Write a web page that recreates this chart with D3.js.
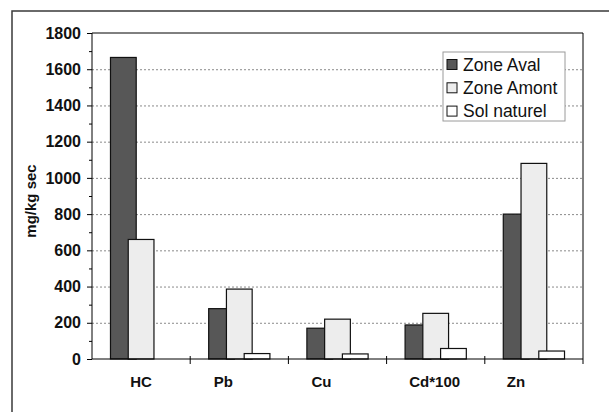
<html lang="fr">
<head>
  <meta charset="UTF-8"/>
  <title>mg/kg sec</title>
  <script src="https://d3js.org/d3.v7.min.js"></script>
</head>
<style>
body {
  margin: 0;
  background: #fff;
  font-family: 'Liberation Sans', Arial, sans-serif;
}

svg {
  width: 609px;
  height: 412px;
  display: block;
}

.axis path, .axis line {
  stroke: #000;
  stroke-width: 1;
}

.axis text {
  font-family: 'Liberation Sans', Arial, sans-serif;
  font-size: 15px;
  font-weight: bold;
  fill: #111;
}

.yaxis text {
  font-size: 16px;
}

.grid line {
  stroke: #8a8a8a;
  stroke-width: 1;
  stroke-dasharray: 2 2;
}

.grid path {
  stroke-width: 0;
}

text.ytitle {
  font-size: 15px;
  font-weight: bold;
  fill: #111;
}

text.legend {
  font-size: 17.5px;
  fill: #111;
}
</style>
<body>
<svg></svg>
<script>
    const categories = ['HC', 'Pb', 'Cu', 'Cd*100', 'Zn'];
    const seriesNames = ['Zone Aval', 'Zone Amont', 'Sol naturel'];
    const zoneAval = [1665, 278, 170, 188, 800];
    const zoneAmont = [660, 386, 220, 252, 1080];
    const solNaturel = [0, 30, 28, 58, 44];
    const yTicks = [0, 200, 400, 600, 800, 1000, 1200, 1400, 1600, 1800];
    const colors = ['#575757', '#ededed', '#ffffff'];

    const series = [zoneAval, zoneAmont, solNaturel];

    const svg = d3.select('svg');

    // outer frame
    svg.append('rect')
      .attr('x', 12)
      .attr('y', 11)
      .attr('width', 620)
      .attr('height', 420)
      .attr('fill', 'none')
      .attr('stroke', '#3a3a3a')
      .attr('stroke-width', 1.5);

    const plotL = 92, plotR = 583, plotT = 33, plotB = 359;

    const x = d3.scaleBand()
      .domain(categories)
      .range([plotL, plotR])
      .padding(0);

    const y = d3.scaleLinear()
      .domain([0, 1800])
      .range([plotB, plotT]);

    // grid
    svg.append('g')
      .attr('class', 'grid')
      .attr('transform', `translate(${plotL}, 0)`)
      .call(d3.axisLeft(y)
        .tickValues(yTicks.filter(t => t > 0 && t < 1800))
        .tickSize(-(plotR - plotL))
        .tickFormat('')
      );

    // plot border top / right
    svg.append('line')
      .attr('x1', plotL).attr('x2', plotR)
      .attr('y1', y(1800)).attr('y2', y(1800))
      .attr('stroke', '#000');
    svg.append('line')
      .attr('x1', plotR).attr('x2', plotR)
      .attr('y1', y(1800)).attr('y2', y(0))
      .attr('stroke', '#000');

    // bars
    const barW = x.bandwidth() * 0.262;
    const step = barW * 0.69;
    const groupW = barW + step * (series.length - 1);

    series.forEach((vals, s) => {
      svg.append('g')
        .selectAll('rect')
        .data(vals.map((v, i) => ({ cat: categories[i], v })).filter(d => d.v > 0))
        .enter()
        .append('rect')
        .attr('x', d => x(d.cat) + (x.bandwidth() - groupW) / 2 + s * step)
        .attr('y', d => y(d.v))
        .attr('width', barW)
        .attr('height', d => y(0) - y(d.v))
        .attr('fill', colors[s])
        .attr('stroke', '#111')
        .attr('stroke-width', 1.2);
    });

    // y axis
    const yAxis = svg.append('g')
      .attr('class', 'axis yaxis')
      .attr('transform', `translate(${plotL}, 0)`)
      .call(d3.axisLeft(y)
        .tickValues(yTicks)
        .tickSize(5)
        .tickPadding(6)
        .tickFormat(d3.format('d'))
      );
    yAxis.select('.domain').attr('d', `M0,${plotT}V${plotB}`);

    // minor ticks
    svg.append('g')
      .attr('class', 'axis')
      .attr('transform', `translate(${plotL}, 0)`)
      .call(d3.axisLeft(y)
        .tickValues(d3.range(100, 1800, 200))
        .tickSize(3)
        .tickFormat('')
      )
      .select('.domain').remove();

    // x axis
    const xAxis = svg.append('g')
      .attr('class', 'axis')
      .attr('transform', `translate(0, ${plotB})`)
      .call(d3.axisBottom(x)
        .tickSize(0)
        .tickPadding(17)
      );
    xAxis.select('.domain').attr('d', `M${plotL},0H${plotR}`);
    // labels in the original sit a bit left of some groups
    const labelShift = [0, -16, -16, -1, -18];
    xAxis.selectAll('.tick text').attr('dx', (d, i) => labelShift[i]);

    // category separators crossing the axis
    svg.append('g')
      .selectAll('line')
      .data(categories.slice(1))
      .enter()
      .append('line')
      .attr('x1', d => x(d)).attr('x2', d => x(d))
      .attr('y1', plotB - 3).attr('y2', plotB + 5)
      .attr('stroke', '#000');
    svg.append('line')
      .attr('x1', plotR).attr('x2', plotR)
      .attr('y1', plotB).attr('y2', plotB + 5)
      .attr('stroke', '#000');

    // y title
    svg.append('text')
      .attr('class', 'ytitle')
      .attr('transform', 'translate(36, 201) rotate(-90)')
      .attr('text-anchor', 'middle')
      .text('mg/kg sec');

    // legend
    const legend = svg.append('g')
      .attr('transform', 'translate(443, 52)');
    legend.append('rect')
      .attr('width', 122)
      .attr('height', 69)
      .attr('fill', '#fff')
      .attr('stroke', '#9a9a9a');
    seriesNames.forEach((name, i) => {
      legend.append('rect')
        .attr('x', 4)
        .attr('y', 7.5 + i * 23.3)
        .attr('width', 10)
        .attr('height', 10)
        .attr('fill', colors[i])
        .attr('stroke', '#111');
      legend.append('text')
        .attr('class', 'legend')
        .attr('x', 20)
        .attr('y', 18.5 + i * 23.3)
        .text(name);
    });
</script>
</body>
</html>
